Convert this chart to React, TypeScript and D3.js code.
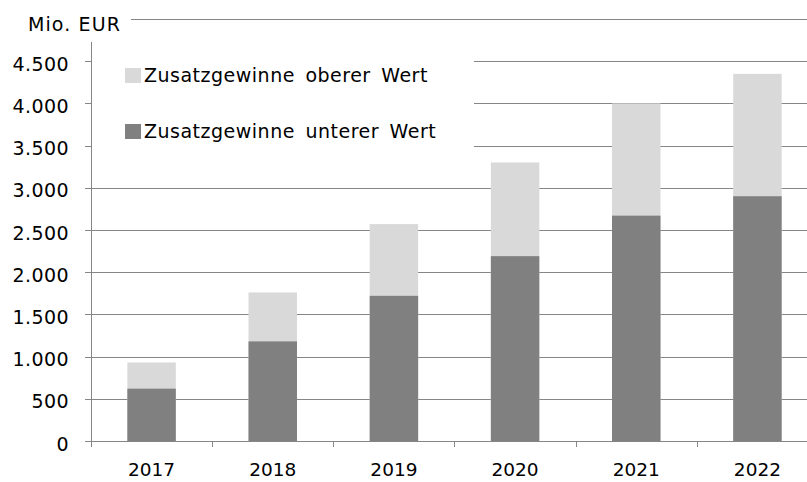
import * as d3 from "d3"

const years = ["2017", "2018", "2019", "2020", "2021", "2022"]
const lowerValues = [620, 1180, 1720, 2190, 2670, 2900]
const upperValues = [930, 1760, 2570, 3300, 4000, 4350]
const yTicks = [0, 500, 1000, 1500, 2000, 2500, 3000, 3500, 4000, 4500]
const gridValues = [500, 1000, 1500, 2000, 2500, 3000, 3500, 4000, 4500, 5000]
const legendLabels = ["Zusatzgewinne oberer Wert", "Zusatzgewinne unterer Wert"]
const unitLabel = "Mio. EUR"

const width = 807
const height = 482
const left = 91
const right = 818
const bottom = 441
const top = 19

const lightColor = "#d9d9d9"
const darkColor = "#808080"
const axisColor = "#868686"
const fontFamily = "'DejaVu Sans', Verdana, sans-serif"

const fmt = (v: number) => d3.format(",")(v).replace(/,/g, ".")

export default function App() {
  const x = d3
    .scaleBand<string>()
    .domain(years)
    .range([left, right])
    .paddingInner(0.6)
    .paddingOuter(0.3)
  const y = d3.scaleLinear().domain([0, 5000]).range([bottom, top])
  const step = x.step()
  const px = (v: number) => Math.round(v) + 0.5

  return (
    <svg
      width={width}
      height={height}
      style={{ position: "absolute", left: 0, top: 0, background: "#fff" }}
      fontFamily={fontFamily}
    >
      {/* gridlines */}
      {gridValues.map((v) => (
        <line
          key={v}
          x1={left}
          x2={right}
          y1={px(y(v))}
          y2={px(y(v))}
          stroke={axisColor}
          strokeWidth={1}
        />
      ))}

      {/* bars: light = upper value, dark = lower value */}
      {years.map((yr, i) => (
        <g key={yr}>
          <rect
            x={x(yr)}
            width={x.bandwidth()}
            y={y(upperValues[i])}
            height={y(0) - y(upperValues[i])}
            fill={lightColor}
          />
          <rect
            x={x(yr)}
            width={x.bandwidth()}
            y={y(lowerValues[i])}
            height={y(0) - y(lowerValues[i])}
            fill={darkColor}
          />
        </g>
      ))}

      {/* white boxes behind legend and unit label */}
      <rect x={left + 1} y={44} width={382} height={122} fill="#fff" />
      <rect x={0} y={0} width={131} height={42} fill="#fff" />

      {/* y axis */}
      <line x1={px(left)} x2={px(left)} y1={42} y2={bottom + 1} stroke={axisColor} />
      {yTicks.map((v) => (
        <g key={v}>
          <line x1={left - 6} x2={left} y1={px(y(v))} y2={px(y(v))} stroke={axisColor} />
          <text
            x={69}
            y={y(v) + 9.5}
            textAnchor="end"
            fontSize={19}
            letterSpacing={0.4}
            fill="#000"
          >
            {fmt(v)}
          </text>
        </g>
      ))}

      {/* x axis */}
      <line x1={left} x2={right} y1={px(bottom)} y2={px(bottom)} stroke={axisColor} />
      {years.map((yr) => (
        <g key={yr}>
          <line
            x1={px(x(yr)! - step * 0.3)}
            x2={px(x(yr)! - step * 0.3)}
            y1={bottom}
            y2={bottom + 6}
            stroke={axisColor}
          />
          <text
            x={x(yr)! + x.bandwidth() / 2}
            y={476}
            textAnchor="middle"
            fontSize={18.5}
            fill="#000"
          >
            {yr}
          </text>
        </g>
      ))}

      {/* unit label */}
      <text x={28} y={31} fontSize={19} letterSpacing={1.1} fill="#000">
        {unitLabel}
      </text>

      {/* legend */}
      {legendLabels.map((label, i) => (
        <g key={label} transform={`translate(125,${68 + i * 56})`}>
          <rect width={16} height={15} fill={i === 0 ? lightColor : darkColor} />
          <text
            x={19}
            y={14}
            fontSize={19}
            letterSpacing={0.5}
            wordSpacing={4}
            fill="#000"
          >
            {label}
          </text>
        </g>
      ))}
    </svg>
  )
}
